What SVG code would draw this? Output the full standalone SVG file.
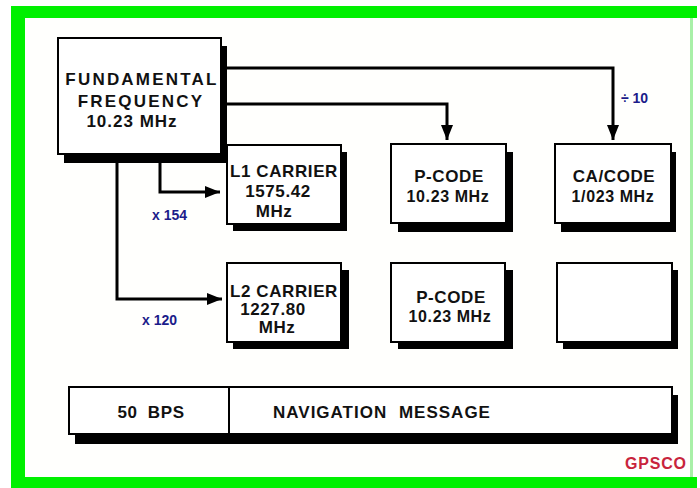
<svg xmlns="http://www.w3.org/2000/svg" width="700" height="488" viewBox="0 0 700 488">
<defs>
<style>
.box{fill:#fff;stroke:#000;stroke-width:2}
.sh{fill:#000}
.t{font-family:"Liberation Sans",Arial,sans-serif;font-weight:bold;font-size:17px;fill:#111;text-anchor:middle;letter-spacing:0.6px}
.s{font-size:16px}
.lbl{font-family:"Liberation Sans",Arial,sans-serif;font-weight:bold;font-size:14px;fill:#1c1c8a}
.c{fill:none;stroke:#000;stroke-width:3}
</style>
<marker id="ah" markerUnits="userSpaceOnUse" markerWidth="16" markerHeight="12" refX="15" refY="6" orient="auto">
<path d="M0,0 L15,6 L0,12 Z" fill="#000"/>
</marker>
</defs>
<rect x="0" y="0" width="700" height="488" fill="#fff"/>
<rect x="11" y="6" width="686" height="12" fill="#00f000"/>
<rect x="11" y="6" width="14" height="482" fill="#00f000"/>
<rect x="11" y="477" width="686" height="11" fill="#00f000"/>
<rect x="690" y="18" width="3" height="459" fill="#a8f0a8"/>
<rect x="25" y="18" width="665" height="459" fill="#fffffd"/>

<g id="connectors">
<path class="c" d="M224 68 H613 V140" marker-end="url(#ah)"/>
<path class="c" d="M224 104 H447 V140" marker-end="url(#ah)"/>
<path class="c" d="M160 162 V192 H220" marker-end="url(#ah)"/>
<path class="c" d="M117 162 V299 H222" marker-end="url(#ah)"/>
<text class="lbl" x="152" y="220">x 154</text>
<text class="lbl" x="142" y="325">x 120</text>
<text class="lbl" x="621" y="103">÷ 10</text>
</g>

<g id="fundamental">
<rect class="sh" x="64" y="46" width="163" height="117"/>
<rect class="box" x="58" y="38" width="163" height="116"/>
<text class="t" x="142" y="85" style="letter-spacing:2.2px">FUNDAMENTAL</text>
<text class="t" x="141" y="107" style="letter-spacing:2.2px">FREQUENCY</text>
<text class="t" x="132" y="127" style="letter-spacing:1px">10.23 MHz</text>
</g>

<g id="l1carrier">
<rect class="sh" x="233" y="152" width="114" height="79"/>
<rect class="box" x="227" y="145" width="114" height="79"/>
<text class="t" x="284" y="177">L1 CARRIER</text>
<text class="t" x="278" y="197">1575.42</text>
<text class="t" x="274" y="217">MHz</text>
</g>

<g id="pcode1">
<rect class="sh" x="398" y="152" width="115" height="80"/>
<rect class="box" x="391" y="144" width="115" height="79"/>
<text class="t" x="449" y="182">P-CODE</text>
<text class="t s" x="448" y="202">10.23 MHz</text>
</g>

<g id="cacode">
<rect class="sh" x="561" y="152" width="115" height="80"/>
<rect class="box" x="555" y="144" width="116" height="79"/>
<text class="t" x="614" y="182">CA/CODE</text>
<text class="t s" x="613" y="202">1/023 MHz</text>
</g>

<g id="l2carrier">
<rect class="sh" x="233" y="270" width="116" height="79"/>
<rect class="box" x="227" y="263" width="114" height="79"/>
<text class="t" x="284" y="297">L2 CARRIER</text>
<text class="t" x="273" y="315">1227.80</text>
<text class="t" x="277" y="333">MHz</text>
</g>

<g id="pcode2">
<rect class="sh" x="398" y="270" width="115" height="79"/>
<rect class="box" x="391" y="263" width="114" height="79"/>
<text class="t" x="451" y="303">P-CODE</text>
<text class="t s" x="450" y="322">10.23 MHz</text>
</g>

<g id="empty">
<rect class="sh" x="563" y="270" width="115" height="79"/>
<rect class="box" x="557" y="263" width="115" height="79"/>
</g>

<g id="navmessage">
<rect class="sh" x="75" y="395" width="603" height="49"/>
<rect class="box" x="69" y="387" width="603" height="47"/>
<line x1="229" y1="387" x2="229" y2="434" stroke="#000" stroke-width="2"/>
<text class="t" x="151" y="418" word-spacing="5">50 BPS</text>
<text class="t" x="382" y="418" word-spacing="6" style="letter-spacing:1px">NAVIGATION MESSAGE</text>
</g>

<text x="625" y="469" font-family="Liberation Sans, Arial, sans-serif" font-weight="bold" font-size="16" letter-spacing="0.8" fill="#c8243c">GPSCO</text>
</svg>
